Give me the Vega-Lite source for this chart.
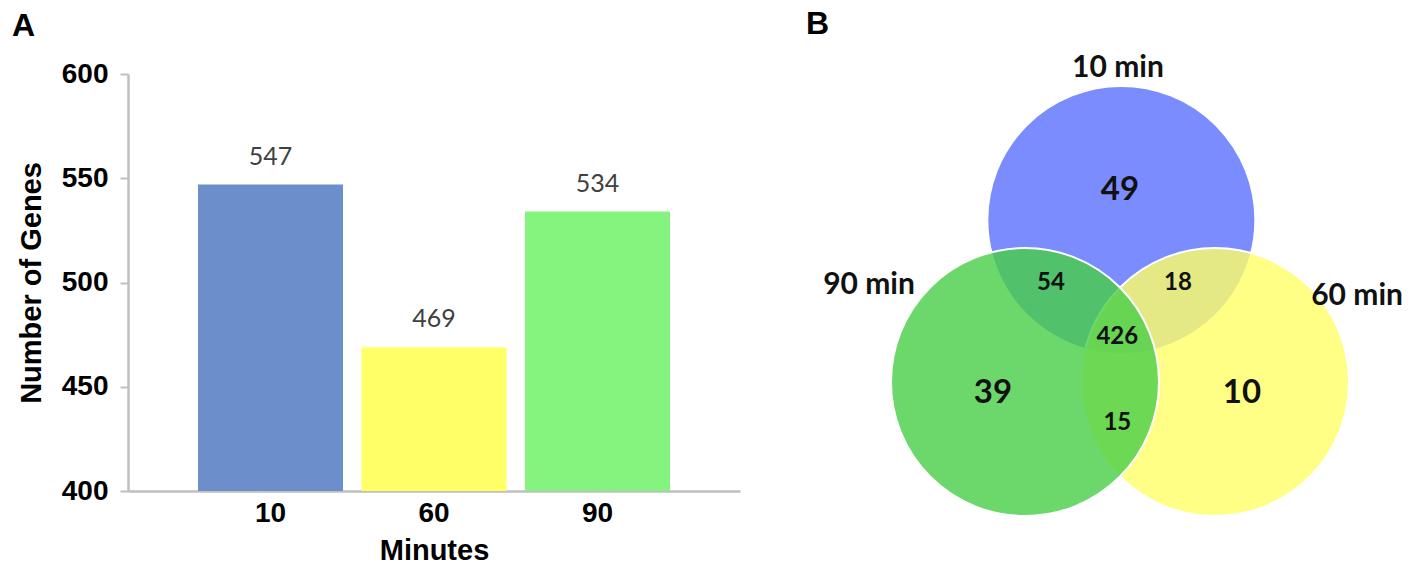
{
  "$schema": "https://vega.github.io/schema/vega-lite/v6.json",
  "padding": {"left": 12, "top": 8, "right": 0, "bottom": 0},
  "background": "white",
  "bounds": "flush",
  "spacing": 66,
  "resolve": {"scale": {"color": "independent", "x": "independent", "y": "independent"}},
  "config": {"view": {"stroke": null}, "font": "Liberation Sans"},
  "datasets": {
    "genes": [
      {"minutes": "10", "genes": 547},
      {"minutes": "60", "genes": 469},
      {"minutes": "90", "genes": 534}
    ],
    "sets": [
      {"set": "10 min", "cx": 0.01, "cy": 1.209},
      {"set": "60 min", "cx": 0.709, "cy": 0},
      {"set": "90 min", "cx": -0.709, "cy": 0}
    ],
    "regions": [
      {"count": 49, "kind": "unique", "x": 0.0, "y": 1.433},
      {"count": 39, "kind": "unique", "x": -0.948, "y": -0.082},
      {"count": 10, "kind": "unique", "x": 0.91, "y": -0.082},
      {"count": 54, "kind": "shared", "x": -0.515, "y": 0.739},
      {"count": 18, "kind": "shared", "x": 0.433, "y": 0.739},
      {"count": 426, "kind": "shared", "x": -0.02, "y": 0.336},
      {"count": 15, "kind": "shared", "x": -0.02, "y": -0.306}
    ],
    "setLabels": [
      {"label": "10 min", "x": -0.015, "y": 2.343},
      {"label": "90 min", "x": -1.873, "y": 0.727},
      {"label": "60 min", "x": 1.769, "y": 0.645}
    ]
  },
  "hconcat": [
    {
      "width": 612,
      "height": 417,
      "title": {"text": "A", "anchor": "start", "frame": "group", "dx": -116, "offset": 17, "fontSize": 32, "fontWeight": "bold", "font": "Liberation Sans", "color": "black"},
      "data": {"name": "genes"},
      "encoding": {
        "x": {
          "field": "minutes", "type": "nominal", "sort": null,
          "scale": {"paddingInner": 0.113, "paddingOuter": 0.428},
          "axis": {"title": "Minutes", "labelAngle": 0, "ticks": false, "domainColor": "#bfbfbf", "domainWidth": 2.5, "labelFontSize": 28, "labelFontWeight": "bold", "labelColor": "black", "labelPadding": 8, "titleFontSize": 29, "titleFontWeight": "bold", "titleColor": "black", "titlePadding": 9, "labelFont": "Liberation Sans", "titleFont": "Liberation Sans"}
        }
      },
      "layer": [
        {
          "mark": {"type": "bar"},
          "encoding": {
            "y": {
              "field": "genes", "type": "quantitative",
              "scale": {"domain": [400, 600], "zero": false, "nice": false},
              "axis": {"title": "Number of Genes", "values": [400, 450, 500, 550, 600], "grid": false, "domainColor": "#bfbfbf", "domainWidth": 2.5, "tickColor": "#bfbfbf", "tickWidth": 2, "tickSize": 8, "labelFontSize": 28, "labelFontWeight": "bold", "labelColor": "black", "labelPadding": 12, "titleFontSize": 29, "titleFontWeight": "bold", "titleColor": "black", "titlePadding": 15, "labelFont": "Liberation Sans", "titleFont": "Liberation Sans"}
            },
            "y2": {"datum": 400},
            "color": {"field": "minutes", "type": "nominal", "scale": {"domain": ["10", "60", "90"], "range": ["#6C8ECA", "#FFFF66", "#84F47E"]}, "legend": null}
          }
        },
        {
          "mark": {"type": "text", "baseline": "alphabetic", "dy": -20, "fontSize": 25, "font": "Lato", "color": "#404040"},
          "encoding": {
            "y": {"field": "genes", "type": "quantitative"},
            "text": {"field": "genes", "type": "quantitative"}
          }
        }
      ]
    },
    {
      "width": 600,
      "height": 417,
      "title": {"text": "B", "anchor": "start", "frame": "group", "dx": 0, "offset": 12, "fontSize": 32, "fontWeight": "bold", "font": "Liberation Sans", "color": "black"},
      "resolve": {"scale": {"color": "independent"}},
      "encoding": {
        "x": {"field": "x", "type": "quantitative", "scale": {"domain": [-2.3433, 2.1343], "nice": false, "zero": false}, "axis": null},
        "y": {"field": "y", "type": "quantitative", "scale": {"domain": [-0.8134, 2.2985], "nice": false, "zero": false}, "axis": null}
      },
      "layer": [
        {
          "data": {"name": "sets"},
          "mark": {"type": "point", "shape": "circle", "filled": true, "size": 71824, "stroke": "white", "strokeWidth": 2, "opacity": 1},
          "encoding": {
            "x": {"field": "cx", "type": "quantitative"},
            "y": {"field": "cy", "type": "quantitative"},
            "color": {"field": "set", "type": "nominal", "scale": {"domain": ["10 min", "60 min", "90 min"], "range": ["#7B8CFF", "rgba(255,255,102,0.8)", "rgba(71,206,71,0.8)"]}, "legend": null}
          }
        },
        {
          "data": {"name": "regions"},
          "transform": [{"filter": "datum.kind === 'unique'"}],
          "mark": {"type": "text", "baseline": "middle", "align": "center", "fontSize": 33, "font": "Lato", "fontWeight": "bold", "color": "#111111"},
          "encoding": {"text": {"field": "count", "type": "quantitative"}}
        },
        {
          "data": {"name": "regions"},
          "transform": [{"filter": "datum.kind === 'shared'"}],
          "mark": {"type": "text", "baseline": "middle", "align": "center", "fontSize": 24, "font": "Lato", "fontWeight": "bold", "color": "#111111"},
          "encoding": {"text": {"field": "count", "type": "quantitative"}}
        },
        {
          "data": {"name": "setLabels"},
          "mark": {"type": "text", "baseline": "middle", "align": "center", "fontSize": 30, "font": "Lato", "fontWeight": "bold", "color": "#111111"},
          "encoding": {"text": {"field": "label", "type": "nominal"}}
        }
      ]
    }
  ]
}
